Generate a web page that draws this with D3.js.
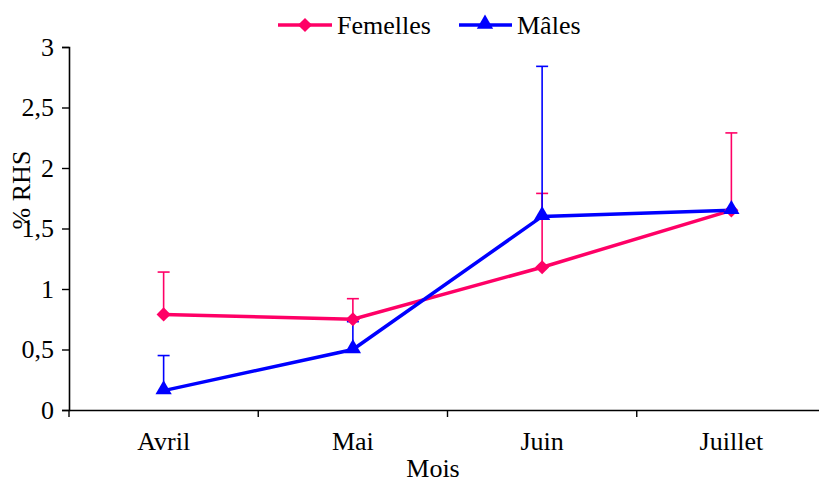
<!DOCTYPE html>
<html><head><meta charset="utf-8">
<script src="https://cdn.jsdelivr.net/npm/d3@7"></script>
<style>body{margin:0;background:#fff}svg{display:block}text{font-family:"Liberation Serif","Times New Roman",serif;fill:#000}</style>
</head><body>
<svg id="c" width="819" height="482"></svg>
<script>
const months = ["Avril","Mai","Juin","Juillet"];
const femelles = [0.79, 0.75, 1.18, 1.65];
const femellesErr = [0.35, 0.17, 0.61, 0.64];
const males = [0.16, 0.50, 1.60, 1.65];
const malesErr = [0.29, 0.23, 1.24, 0.0];
const yTicks = [0, 0.5, 1, 1.5, 2, 2.5, 3];
const yTickLabels = ["0","0,5","1","1,5","2","2,5","3"];

const svg = d3.select("#c");
const x = d3.scaleBand().domain(months).range([69, 826]).padding(0);
const y = d3.scaleLinear().domain([0, 3]).range([410, 47]);
const cx = d => x(d) + x.bandwidth() / 2;
const pink = "#FF0066", blue = "#0000FF";

// axes
const yAxis = svg.append("g").attr("transform", "translate(69,0)")
  .call(d3.axisLeft(y).tickValues(yTicks).tickFormat((d, i) => yTickLabels[i]).tickSizeOuter(0).tickSize(7).tickPadding(8));
yAxis.select(".domain").attr("stroke-width", 1.6);
yAxis.selectAll(".tick line").attr("stroke-width", 1.4);
yAxis.selectAll("text").attr("font-size", 26).style("font-family", "Liberation Serif");

const xAxis = svg.append("g").attr("transform", "translate(0,410)")
  .call(d3.axisBottom(x).tickSize(0).tickSizeOuter(0).tickPadding(22));
xAxis.select(".domain").attr("stroke-width", 1.6);
xAxis.selectAll("text").attr("font-size", 26).style("font-family", "Liberation Serif");
// tick marks at category boundaries
svg.append("g").selectAll("line").data(months).join("line")
  .attr("x1", d => x(d)).attr("x2", d => x(d)).attr("y1", 410).attr("y2", 417)
  .attr("stroke", "#000").attr("stroke-width", 1.4);

// error bars
function errBars(vals, errs, color) {
  const g = svg.append("g");
  months.forEach((m, i) => {
    if (errs[i] <= 0) return;
    const X = cx(m), y0 = y(vals[i]), y1 = y(vals[i] + errs[i]);
    g.append("line").attr("x1", X).attr("x2", X).attr("y1", y0).attr("y2", y1).attr("stroke", color).attr("stroke-width", 1.6);
    g.append("line").attr("x1", X - 6).attr("x2", X + 6).attr("y1", y1).attr("y2", y1).attr("stroke", color).attr("stroke-width", 1.6);
  });
}
errBars(femelles, femellesErr, pink);
errBars(males, malesErr, blue);

const line = d3.line().x((d, i) => cx(months[i])).y(d => y(d));
svg.append("path").datum(femelles).attr("d", line).attr("fill", "none").attr("stroke", pink).attr("stroke-width", 3.5);
svg.append("path").datum(males).attr("d", line).attr("fill", "none").attr("stroke", blue).attr("stroke-width", 3.5);

const dia = d3.symbol().type(d3.symbolSquare).size(100);
const tri = d3.symbol().type(d3.symbolTriangle).size(115);
svg.append("g").selectAll("path").data(femelles).join("path")
  .attr("d", dia)
  .attr("transform", (d, i) => `translate(${cx(months[i])},${y(d)}) rotate(45)`).attr("fill", pink);
svg.append("g").selectAll("path").data(males).join("path")
  .attr("d", tri).attr("transform", (d, i) => `translate(${cx(months[i])},${y(d) - 1})`).attr("fill", blue);

// axis titles
svg.append("text").attr("x", 433).attr("y", 477).attr("text-anchor", "middle").attr("font-size", 26).text("Mois");
svg.append("text").attr("transform", "translate(21,190) rotate(-90)").attr("text-anchor", "middle")
  .attr("dominant-baseline", "central").attr("font-size", 26).text("% RHS");

// legend
const leg = svg.append("g");
leg.append("line").attr("x1", 278).attr("x2", 332).attr("y1", 25).attr("y2", 25).attr("stroke", pink).attr("stroke-width", 3.5);
leg.append("path").attr("d", dia).attr("transform", "translate(305,25) rotate(45)").attr("fill", pink);
leg.append("text").attr("x", 337).attr("y", 34).attr("font-size", 26).text("Femelles");
leg.append("line").attr("x1", 459).attr("x2", 512).attr("y1", 25).attr("y2", 25).attr("stroke", blue).attr("stroke-width", 3.5);
leg.append("path").attr("d", tri).attr("transform", "translate(485,24)").attr("fill", blue);
leg.append("text").attr("x", 517).attr("y", 34).attr("font-size", 26).text("Mâles");
</script>
</body></html>
